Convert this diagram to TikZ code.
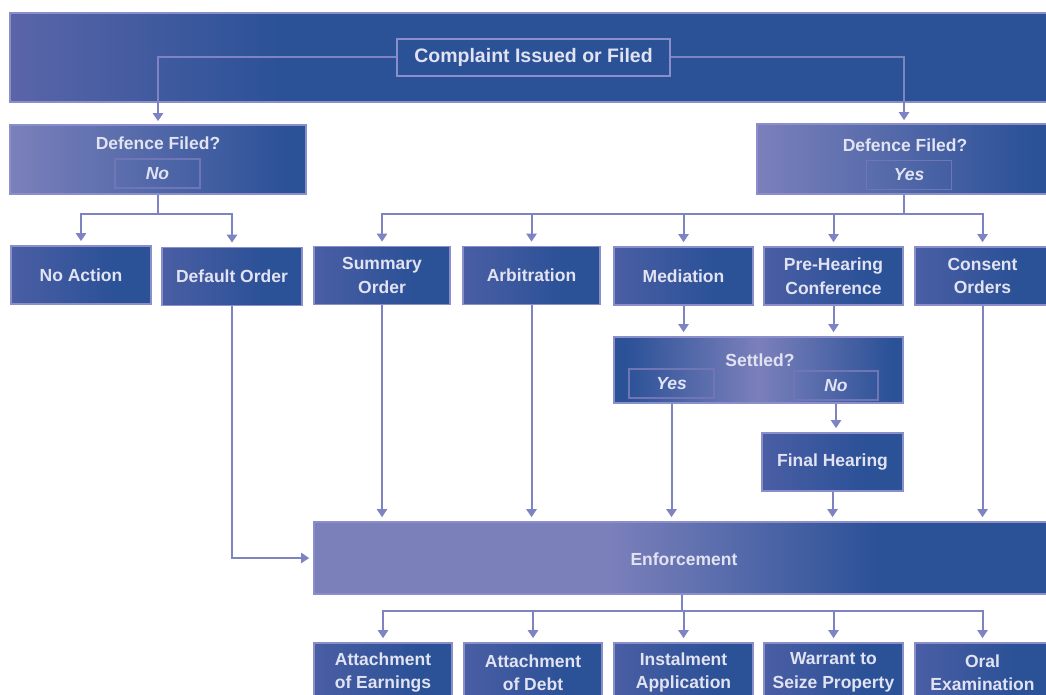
\documentclass[tikz,border=0pt]{standalone}
\usepackage{fontspec}
\setmainfont{Liberation Sans}
\usetikzlibrary{arrows.meta,calc}
\definecolor{dk}{HTML}{2B5197}
\definecolor{lt}{HTML}{7B80BB}
\definecolor{md}{HTML}{4A5EA4}
\definecolor{bn}{HTML}{5A65A8}
\definecolor{lnc}{HTML}{7E83C2}
\definecolor{bd}{HTML}{8A8FCC}
\definecolor{tx}{HTML}{E2E3F2}
\definecolor{ib}{HTML}{7075B5}
\pgfdeclarehorizontalshading{bannershade}{100bp}{color(0bp)=(bn); color(25bp)=(bn); color(38bp)=(dk); color(100bp)=(dk)}
\pgfdeclarehorizontalshading{defshade}{100bp}{color(0bp)=(lt); color(25bp)=(lt); color(72bp)=(dk); color(100bp)=(dk)}
\pgfdeclarehorizontalshading{boxshade}{100bp}{color(0bp)=(md); color(25bp)=(md); color(62bp)=(dk); color(100bp)=(dk)}
\pgfdeclarehorizontalshading{settledshade}{100bp}{color(0bp)=(dk); color(27bp)=(dk); color(50bp)=(lt); color(73bp)=(dk); color(100bp)=(dk)}
\pgfdeclarehorizontalshading{enfshade}{100bp}{color(0bp)=(lt); color(25bp)=(lt); color(45bp)=(lt); color(63.5bp)=(dk); color(100bp)=(dk)}
\tikzset{
  base/.style={draw=bd, line width=1.6pt, text=tx, align=center, inner sep=0pt,
    font=\bfseries\fontsize{17.5}{23.5}\selectfont},
  sbox/.style={base, shading=boxshade, shade, minimum height=58, minimum width=139},
  lbl/.style={text=tx, inner sep=0pt, font=\bfseries\fontsize{17.5}{20}\selectfont},
  inbox/.style={draw=ib, line width=1.6pt, minimum width=85, minimum height=29, text=tx,
    inner sep=0pt, font=\bfseries\itshape\fontsize{17.5}{20}\selectfont},
  lnk/.style={draw=lnc, line width=2pt},
  arr/.style={lnk, -{Triangle[width=10pt,length=8pt]}, shorten >=4pt},
}
\begin{document}
\begin{tikzpicture}[x=1pt,y=-1pt]
\useasboundingbox (0,0) rectangle (1046,695);
% top banner
\node[base, shading=bannershade, shade, minimum width=1042, minimum height=89] (banner) at (531,57.5) {};
\node[base, fill=dk, minimum width=273, minimum height=37, font=\bfseries\fontsize{19.5}{22}\selectfont] (complaint) at (533.5,57.5) {Complaint Issued or Filed};
% defence boxes
\node[base, shading=defshade, shade, minimum width=296, minimum height=69] (defL) at (158,159.5) {};
\node[lbl] (defLt) at (158,143) {Defence Filed?};
\node[inbox] (noL) at (157.5,173.5) {No};
\node[base, shading=defshade, shade, minimum width=294, minimum height=70] (defR) at (904,159) {};
\node[lbl] (defRt) at (905,145) {Defence Filed?};
\node[inbox] (yesR) at (909,175) {Yes};
% first row
\node[sbox, minimum width=140] (noact) at (81,275) {No Action};
\node[sbox, minimum width=140] (default) at (232,276.5) {Default Order};
\node[sbox, minimum width=136] (summary) at (382,275.5) {Summary\\Order};
\node[sbox, minimum width=137] (arb) at (531.5,275.5) {Arbitration};
\node[sbox] (med) at (683.5,276) {Mediation};
\node[sbox] (pre) at (833.5,276) {Pre-Hearing\\Conference};
\node[sbox, minimum width=135] (consent) at (982.5,276) {Consent\\Orders};
% settled
\node[base, shading=settledshade, shade, minimum width=289, minimum height=66] (settled) at (758.5,370) {};
\node[lbl] (settledt) at (760,360) {Settled?};
\node[inbox] (yesS) at (671.5,383.5) {Yes};
\node[inbox, minimum width=84] (noS) at (836,385.5) {No};
\node[sbox, minimum width=141] (final) at (832.5,462) {Final Hearing};
% enforcement
\node[base, shading=enfshade, shade, minimum width=736, minimum height=72] (enf) at (682,558) {};
\node[lbl] (enft) at (684,559) {Enforcement};
% bottom row
\node[sbox, minimum width=138, minimum height=59] (ae) at (383,672.5) {Attachment\\of Earnings};
\node[sbox, minimum width=138, minimum height=59] (ad) at (533,672.5) {Attachment\\of Debt};
\node[sbox, minimum height=59] (inst) at (683.5,672.5) {Instalment\\Application};
\node[sbox, minimum height=59] (war) at (833.5,672.5) {Warrant to\\Seize Property};
\node[sbox, minimum width=135, minimum height=59] (oral) at (982.5,672.5) {Oral\\Examination};
% connectors
\draw[arr, shorten >=3pt] (complaint.west) -| (defL.north);
\draw[arr, shorten >=3pt] (complaint.east) -| (defR.north);
\draw[lnk] (defL.south) -- ++(0,19) coordinate (jL);
\draw[arr] (jL) -| (noact.north);
\draw[arr] (jL) -| (default.north);
\draw[lnk] (defR.south) -- ++(0,19) coordinate (jR);
\foreach \n in {summary,arb,med,pre,consent} \draw[arr] (jR) -| (\n.north);
\draw[arr] (med.south) -- (med.south |- settled.north);
\draw[arr] (pre.south) -- (pre.south |- settled.north);
\draw[arr] (yesS.south |- settled.south) -- (yesS.south |- enf.north);
\draw[arr] (noS.south |- settled.south) -- (noS.south |- final.north);
\draw[arr] (final.south) -- (final.south |- enf.north);
\draw[arr] (summary.south) -- (summary.south |- enf.north);
\draw[arr] (arb.south) -- (arb.south |- enf.north);
\draw[arr] (consent.south) -- (consent.south |- enf.north);
\draw[arr] (default.south) |- (enf.west);
\draw[lnk] (enf.south) -- ++(0,16) coordinate (jE);
\foreach \n in {ae,ad,inst,war,oral} \draw[arr] (jE) -| (\n.north);
\end{tikzpicture}
\end{document}
